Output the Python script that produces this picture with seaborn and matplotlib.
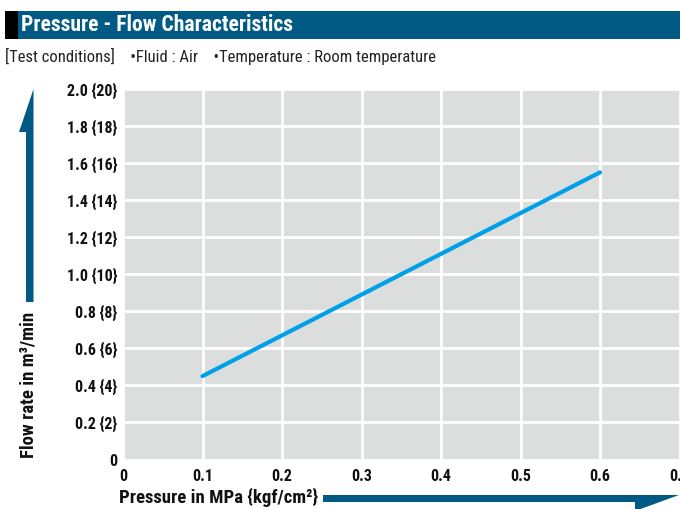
import matplotlib
matplotlib.use("Agg")
import matplotlib.pyplot as plt
from matplotlib.patches import Polygon, Rectangle
import seaborn as sns
import pandas as pd

# ---- data ----
pressure_mpa = [0.1, 0.6]
flow_rate = [0.45, 1.55]
x_ticks = [0, 0.1, 0.2, 0.3, 0.4, 0.5, 0.6, 0.7]
x_tick_labels = ["0", "0.1", "0.2", "0.3", "0.4", "0.5", "0.6", "0.7"]
y_ticks = [0, 0.2, 0.4, 0.6, 0.8, 1.0, 1.2, 1.4, 1.6, 1.8, 2.0]
y_tick_labels = ["0", "0.2 {2}", "0.4 {4}", "0.6 {6}", "0.8 {8}", "1.0 {10}",
                 "1.2 {12}", "1.4 {14}", "1.6 {16}", "1.8 {18}", "2.0 {20}"]
title = "Pressure - Flow Characteristics"
subtitle = "[Test conditions]    \u2022Fluid : Air    \u2022Temperature : Room temperature"
xlabel = "Pressure in MPa {kgf/cm\u00b2}"
ylabel = "Flow rate in m\u00b3/min"

sns.set_theme(style="darkgrid")
plt.rcParams["font.family"] = ["Roboto Condensed", "Liberation Sans Narrow", "DejaVu Sans"]

W, H = 680, 509
fig = plt.figure(figsize=(W / 100, H / 100), dpi=100)

def fx(px):
    return px / W

def fy(py):
    return 1 - py / H

# header bar
fig.patches.append(Rectangle((fx(5), fy(38.5)), fx(13), 27.5 / H, transform=fig.transFigure,
                             facecolor="black", edgecolor="none"))
fig.patches.append(Rectangle((fx(18), fy(38.5)), fx(680 - 18), 27.5 / H, transform=fig.transFigure,
                             facecolor="#005A84", edgecolor="none"))
fig.text(fx(21), fy(25), title, color="white", fontsize=15.6, fontweight="bold",
         va="center", ha="left")
fig.text(fx(5), fy(56.5), subtitle, color="#222222", fontsize=12, va="center", ha="left")

# axes
ax = fig.add_axes([fx(123), fy(459.5), fx(679.5) - fx(123), (459.5 - 89) / H])
ax.set_facecolor("#DCDDDD")
df = pd.DataFrame({"pressure": pressure_mpa, "flow": flow_rate})
sns.lineplot(data=df, x="pressure", y="flow", ax=ax, color="#00A0E9", linewidth=3)
ax.set_xlim(0, 0.7)
ax.set_ylim(0, 2.0)
ax.set_xticks(x_ticks)
ax.set_xticklabels(x_tick_labels)
ax.set_yticks(y_ticks)
ax.set_yticklabels(y_tick_labels)
ax.grid(True, color="white", linewidth=2)
for s in ax.spines.values():
    s.set_visible(False)
ax.tick_params(axis="both", length=0, labelsize=11.5, labelcolor="#111111")
ax.tick_params(axis="y", pad=4)
ax.tick_params(axis="x", pad=7)
for lab in ax.get_xticklabels() + ax.get_yticklabels():
    lab.set_fontweight("bold")
ax.set_xlabel("")
ax.set_ylabel("")

# axis labels
fig.text(fx(119), fy(497), xlabel, fontsize=13.5, fontweight="bold", ha="left", va="center",
         color="#111111")
fig.text(fx(29), fy(385), ylabel, fontsize=13.5, fontweight="bold", ha="center", va="center",
         rotation=90, color="#111111")

# arrows
arrow_color = "#005A84"
yarrow = [(26, 302), (26, 132), (19, 132), (33.5, 89), (33.5, 302)]
fig.patches.append(Polygon([(fx(a), fy(b)) for a, b in yarrow], closed=True,
                           transform=fig.transFigure, facecolor=arrow_color, edgecolor="none"))
xarrow = [(323, 495), (679, 495), (635, 511), (635, 502), (323, 502)]
fig.patches.append(Polygon([(fx(a), fy(b)) for a, b in xarrow], closed=True,
                           transform=fig.transFigure, facecolor=arrow_color, edgecolor="none"))

fig.savefig("out.png", dpi=100)
